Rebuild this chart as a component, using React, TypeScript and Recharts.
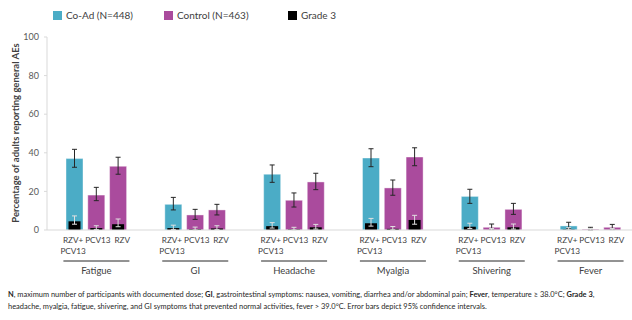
import React from "react";
import { BarChart, Bar, XAxis, YAxis, ErrorBar } from "recharts";

const groups = ["Fatigue", "GI", "Headache", "Myalgia", "Shivering", "Fever"];
const subLabels = [["RZV+", "PCV13"], ["PCV13"], ["RZV"]];
const yTicks = [0, 20, 40, 60, 80, 100];

// any-grade values (%), with 95% CI
const coad = [37.0, 13.3, 28.9, 37.3, 17.4, 2.1];
const coadLo = [32.5, 10.4, 24.7, 32.8, 13.8, 0.9];
const coadHi = [41.8, 16.9, 33.7, 42.1, 21.1, 4.0];
const pcv = [18.1, 7.8, 15.4, 21.8, 1.4, 0.4];
const pcvLo = [15.2, 5.5, 11.9, 18.0, 0.5, 0.0];
const pcvHi = [22.1, 10.7, 19.2, 25.9, 3.1, 1.4];
const rzv = [33.0, 10.4, 24.9, 37.8, 10.7, 1.4];
const rzvLo = [28.9, 7.8, 20.9, 33.3, 8.1, 0.5];
const rzvHi = [37.7, 13.3, 29.4, 42.6, 13.8, 2.9];

// grade 3 values (%), with 95% CI
const coadG3 = [4.5, 1.0, 2.0, 3.5, 1.7, 0.2];
const coadG3Lo = [3.0, 0.3, 1.0, 2.0, 0.8, 0.0];
const coadG3Hi = [7.3, 2.5, 3.8, 6.0, 3.5, 1.2];
const pcvG3 = [1.0, 0.4, 0.3, 0.6, 0.0, 0.0];
const pcvG3Lo = [0.3, 0.0, 0.0, 0.1, 0.0, 0.0];
const pcvG3Hi = [2.2, 1.5, 1.4, 1.8, 0.8, 0.8];
const rzvG3 = [3.0, 0.8, 1.4, 5.2, 1.4, 0.0];
const rzvG3Lo = [1.7, 0.2, 0.5, 3.0, 0.5, 0.0];
const rzvG3Hi = [5.7, 2.2, 2.9, 7.6, 3.1, 0.8];

const CYAN = "#4bacc6";
const PURPLE = "#aa4b9d";
const TXT = "#404040";
const FONT = "Lato, 'Noto Sans', sans-serif";

const err = (v: number[], lo: number[], hi: number[], i: number) => [v[i] - lo[i], hi[i] - v[i]];

const data = groups.map((g, i) => ({
  group: g,
  coad: coad[i],
  coadErr: err(coad, coadLo, coadHi, i),
  pcv: pcv[i],
  pcvErr: err(pcv, pcvLo, pcvHi, i),
  rzv: rzv[i],
  rzvErr: err(rzv, rzvLo, rzvHi, i),
  coadG3: coadG3[i],
  coadG3Err: err(coadG3, coadG3Lo, coadG3Hi, i),
  pcvG3: pcvG3[i],
  pcvG3Err: err(pcvG3, pcvG3Lo, pcvG3Hi, i),
  rzvG3: rzvG3[i],
  rzvG3Err: err(rzvG3, rzvG3Lo, rzvG3Hi, i),
}));

const BAR = 17;
const GAP = 4.8;
// small nudges so the category texts sit apart like in the original
const labelShift = [-1.5, 1.5, 4];

function GroupTick(props: any) {
  const { x, y, payload } = props;
  const pitch = BAR + GAP;
  return (
    <g fontFamily={FONT} fill={TXT}>
      {subLabels.map((lines, k) => {
        const cx = x + (k - 1) * pitch + labelShift[k];
        return (
          <text key={k} x={cx} y={y + 13} textAnchor="middle" fontSize={8.2}>
            {lines.map((l, j) => (
              <tspan key={j} x={cx} dy={j === 0 ? 0 : 11}>
                {l}
              </tspan>
            ))}
          </text>
        );
      })}
      <line x1={x - 33} x2={x + 33} y1={y + 31} y2={y + 31} stroke="#262626" strokeWidth={1} />
      <text x={x} y={y + 43.5} textAnchor="middle" fontSize={9.5}>
        {payload.value}
      </text>
    </g>
  );
}

function InsetBar(props: any) {
  const { x, y, width, height } = props;
  if (!height || height <= 0) return null;
  return <rect x={x + 2.5} y={y} width={Math.max(width - 5, 0)} height={height} fill="#000" />;
}

const legendItems = [
  { label: "Co-Ad (N=448)", color: CYAN, left: 53 },
  { label: "Control (N=463)", color: PURPLE, left: 164 },
  { label: "Grade 3", color: "#000", left: 288 },
];

export default function App() {
  return (
    <div
      style={{
        position: "fixed",
        left: 0,
        top: 0,
        width: 632,
        height: 320,
        overflow: "hidden",
        background: "#fff",
        fontFamily: FONT,
      }}
    >
      {legendItems.map((it) => (
        <div
          key={it.label}
          style={{ position: "absolute", left: it.left, top: 9, display: "flex", alignItems: "center", fontSize: 10, color: TXT }}
        >
          <span style={{ width: 9, height: 9, background: it.color, display: "inline-block", marginRight: 4 }} />
          <span>{it.label}</span>
        </div>
      ))}
      <div
        style={{
          position: "absolute",
          left: 15,
          top: 133,
          transform: "translate(-50%, -50%) rotate(-90deg)",
          whiteSpace: "nowrap",
          fontSize: 9.5,
          fontWeight: 700,
          color: TXT,
        }}
      >
        Percentage of adults reporting general AEs
      </div>
      <div style={{ position: "absolute", left: 0, top: 0 }}>
        <BarChart
          width={660}
          height={285}
          data={data}
          margin={{ top: 37, right: 20, left: 0, bottom: 0 }}
          barGap={GAP}
        >
          <YAxis
            domain={[0, 100]}
            ticks={yTicks}
            width={47}
            tickSize={3}
            tickMargin={5}
            axisLine={{ stroke: "#d9d9d9" }}
            tickLine={{ stroke: "#d9d9d9" }}
            tick={{ fontSize: 9, fill: "#595959", fontFamily: FONT }}
          />
          <XAxis
            dataKey="group"
            height={55}
            tickSize={0}
            tickMargin={0}
            tickLine={false}
            axisLine={{ stroke: "#d9d9d9" }}
            tick={<GroupTick />}
            interval={0}
          />
          <XAxis xAxisId="g3" dataKey="group" hide />
          <Bar dataKey="coad" fill={CYAN} barSize={BAR} stroke="#ffffff" strokeOpacity={0.4} isAnimationActive={false}>
            <ErrorBar dataKey="coadErr" width={2.5} stroke="#262626" strokeWidth={1} />
          </Bar>
          <Bar dataKey="pcv" fill={PURPLE} barSize={BAR} stroke="#ffffff" strokeOpacity={0.4} isAnimationActive={false}>
            <ErrorBar dataKey="pcvErr" width={2.5} stroke="#262626" strokeWidth={1} />
          </Bar>
          <Bar dataKey="rzv" fill={PURPLE} barSize={BAR} stroke="#ffffff" strokeOpacity={0.4} isAnimationActive={false}>
            <ErrorBar dataKey="rzvErr" width={2.5} stroke="#262626" strokeWidth={1} />
          </Bar>
          <Bar xAxisId="g3" dataKey="coadG3" fill="#000" barSize={BAR} shape={<InsetBar />} isAnimationActive={false}>
            <ErrorBar dataKey="coadG3Err" width={2.5} stroke="#e0e0e0" strokeWidth={1} />
          </Bar>
          <Bar xAxisId="g3" dataKey="pcvG3" fill="#000" barSize={BAR} shape={<InsetBar />} isAnimationActive={false}>
            <ErrorBar dataKey="pcvG3Err" width={2.5} stroke="#e0e0e0" strokeWidth={1} />
          </Bar>
          <Bar xAxisId="g3" dataKey="rzvG3" fill="#000" barSize={BAR} shape={<InsetBar />} isAnimationActive={false}>
            <ErrorBar dataKey="rzvG3Err" width={2.5} stroke="#e0e0e0" strokeWidth={1} />
          </Bar>
        </BarChart>
      </div>
      <div
        style={{
          position: "absolute",
          left: 8,
          top: 289,
          width: 624,
          fontSize: 7.45,
          lineHeight: "11.5px",
          color: "#262626",
          whiteSpace: "nowrap",
        }}
      >
        <div>
          <b>N</b>, maximum number of participants with documented dose; <b>GI</b>, gastrointestinal symptoms: nausea,
          vomiting, diarrhea and/or abdominal pain; <b>Fever</b>, temperature ≥ 38.0°C; <b>Grade 3</b>,
        </div>
        <div>
          headache, myalgia, fatigue, shivering, and GI symptoms that prevented normal activities, fever &gt; 39.0°C.
          Error bars depict 95% confidence intervals.
        </div>
      </div>
    </div>
  );
}
